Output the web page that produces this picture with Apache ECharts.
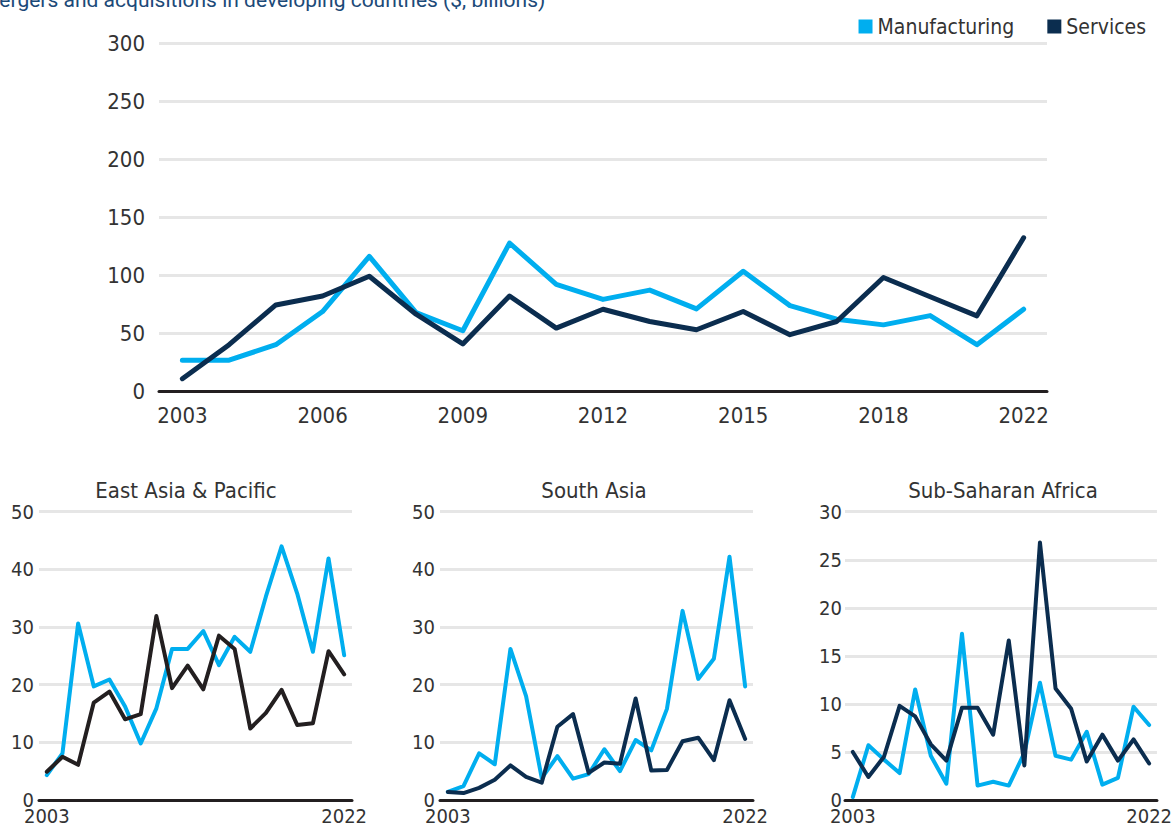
<!DOCTYPE html>
<html>
<head>
<meta charset="utf-8">
<script src="https://cdn.jsdelivr.net/npm/echarts@6/dist/echarts.min.js"></script>
<style>
html,body{margin:0;padding:0;background:#fff;}
#chart{width:1175px;height:829px;}
</style>
</head>
<body>
<div id="chart"></div>
<script>
// ---- data ----
var titleText = 'Mergers and acquisitions in developing countries ($, billions)';
var mainYears = ['2003','2004','2005','2006','2007','2008','2009','2010','2011','2012','2013','2014','2015','2016','2017','2018','2019','2020','2021'];
var mainTickLabels = ['2003','','','2006','','','2009','','','2012','','','2015','','','2018','','','2022'];
var mainManufacturing = [26.6,26.6,40,68.6,116.3,67.7,52,127.7,92,79.1,87.1,70.9,103.4,73.7,62,57.1,65.1,40,70.6];
var mainServices = [10.6,40,74.3,82,99.1,66.3,40.6,82,54.3,70.6,60,52.9,68.6,48.6,60,98,81.4,64.9,132.3];

var smallYears = ['2003','2004','2005','2006','2007','2008','2009','2010','2011','2012','2013','2014','2015','2016','2017','2018','2019','2020','2021','2022'];
var smallTickLabels = ['2003','','','','','','','','','','','','','','','','','','','2022'];

var eapTitle = 'East Asia & Pacific';
var eapManufacturing = [4.3,8.1,30.6,19.7,20.9,16.2,9.8,15.9,26.2,26.2,29.3,23.4,28.3,25.7,35.3,44,35.8,25.7,41.9,25.1];
var eapServices = [4.9,7.5,6.1,16.9,18.8,14,14.9,31.9,19.4,23.3,19.2,28.5,26.2,12.4,15.1,19.1,13,13.3,25.8,21.8];

var saTitle = 'South Asia';
var saManufacturing = [1.4,2.4,8.1,6.2,26.2,18,3.8,7.6,3.7,4.5,8.8,5,10.4,8.6,15.8,32.8,21,24.5,42.2,19.7];
var saServices = [1.4,1.2,2.1,3.5,6,4,3,12.7,14.9,4.7,6.5,6.3,17.6,5.1,5.2,10.2,10.8,6.9,17.3,10.6];

var ssaTitle = 'Sub-Saharan Africa';
var ssaManufacturing = [0.3,5.7,4.2,2.8,11.5,4.6,1.7,17.3,1.5,1.9,1.5,4.9,12.2,4.6,4.2,7.1,1.6,2.3,9.7,7.8];
var ssaServices = [5,2.4,4.5,9.8,8.7,5.8,4.1,9.6,9.6,6.8,16.6,3.6,26.8,11.6,9.5,4,6.8,4.1,6.3,3.8];

// ---- style ----
var LIGHT = '#00aeef', NAVY = '#0b2d4f', BLACK = '#231f20';
var GRID_GREY = '#e6e6e6', TEXT = '#333333';
var FONT = "'Liberation Sans Narrow', 'DejaVu Sans Condensed', Roboto, sans-serif";

var chart = echarts.init(document.getElementById('chart'), null, {renderer: 'svg'});

function xAxisFor(gridIndex, cats, labels, fontSize, margin, lineHeight) {
  return {
    type: 'category', gridIndex: gridIndex, data: cats, boundaryGap: true,
    axisLine: {show: true, lineStyle: {color: BLACK, width: 3}},
    axisTick: {show: false},
    axisLabel: {
      color: TEXT, fontFamily: FONT, fontSize: fontSize, margin: margin, lineHeight: lineHeight,
      interval: function (i) { return labels[i] !== ''; },
      formatter: function (v, i) { return labels[i]; }
    },
    splitLine: {show: false}
  };
}
function yAxisFor(gridIndex, max, interval, fontSize, margin, lineHeight) {
  return {
    type: 'value', gridIndex: gridIndex, min: 0, max: max, interval: interval,
    axisLine: {show: false}, axisTick: {show: false},
    axisLabel: {color: TEXT, fontFamily: FONT, fontSize: fontSize, margin: margin, lineHeight: lineHeight},
    splitLine: {show: true, lineStyle: {color: GRID_GREY, width: 3}}
  };
}
function lineSeries(name, idx, data, color, width, z) {
  return {
    name: name, type: 'line', xAxisIndex: idx, yAxisIndex: idx, data: data,
    symbol: 'none', smooth: false, z: z,
    lineStyle: {color: color, width: width, join: 'round', cap: 'round'},
    itemStyle: {color: color},
    emphasis: {disabled: true}
  };
}

var option = {
  animation: false,
  backgroundColor: '#ffffff',
  legend: {
    data: ['Manufacturing', 'Services'],
    orient: 'horizontal',
    right: 24, top: 11,
    icon: 'rect', itemWidth: 14, itemHeight: 14, itemGap: 33,
    textStyle: {color: TEXT, fontFamily: FONT, fontSize: 21},
    selectedMode: false
  },
  graphic: [
    {type: 'text', left: -19, top: -11, style: {text: titleText, fill: '#1c4a78', font: "21px Roboto, sans-serif"}},
    {type: 'text', x: 186, y: 490, style: {text: eapTitle, fill: TEXT, font: "22px " + FONT, textAlign: 'center', textVerticalAlign: 'middle'}},
    {type: 'text', x: 594, y: 490, style: {text: saTitle, fill: TEXT, font: "22px " + FONT, textAlign: 'center', textVerticalAlign: 'middle'}},
    {type: 'text', x: 1003, y: 490, style: {text: ssaTitle, fill: TEXT, font: "22px " + FONT, textAlign: 'center', textVerticalAlign: 'middle'}}
  ],
  grid: [
    {left: 159, top: 43.5, width: 888, height: 347.5, containLabel: false},
    {left: 39, top: 511.7, width: 313, height: 288.3, containLabel: false},
    {left: 440, top: 511.7, width: 313, height: 288.3, containLabel: false},
    {left: 845, top: 511.7, width: 313, height: 288.3, containLabel: false}
  ],
  xAxis: [
    xAxisFor(0, mainYears, mainTickLabels, 22, 13, 22),
    xAxisFor(1, smallYears, smallTickLabels, 20, 9, 14),
    xAxisFor(2, smallYears, smallTickLabels, 20, 9, 14),
    xAxisFor(3, smallYears, smallTickLabels, 20, 9, 14)
  ],
  yAxis: [
    yAxisFor(0, 300, 50, 22, 14, 22),
    yAxisFor(1, 50, 10, 20, 5, 14),
    yAxisFor(2, 50, 10, 20, 5, 14),
    yAxisFor(3, 30, 5, 20, 3, 14)
  ],
  series: [
    lineSeries('Manufacturing', 0, mainManufacturing, LIGHT, 5, 3),
    lineSeries('Services', 0, mainServices, NAVY, 5, 4),
    lineSeries('Manufacturing', 1, eapManufacturing, LIGHT, 4, 3),
    lineSeries('Services', 1, eapServices, BLACK, 4, 4),
    lineSeries('Manufacturing', 2, saManufacturing, LIGHT, 4, 3),
    lineSeries('Services', 2, saServices, NAVY, 4, 4),
    lineSeries('Manufacturing', 3, ssaManufacturing, LIGHT, 4, 3),
    lineSeries('Services', 3, ssaServices, NAVY, 4, 4)
  ]
};
chart.setOption(option);
</script>
</body>
</html>
